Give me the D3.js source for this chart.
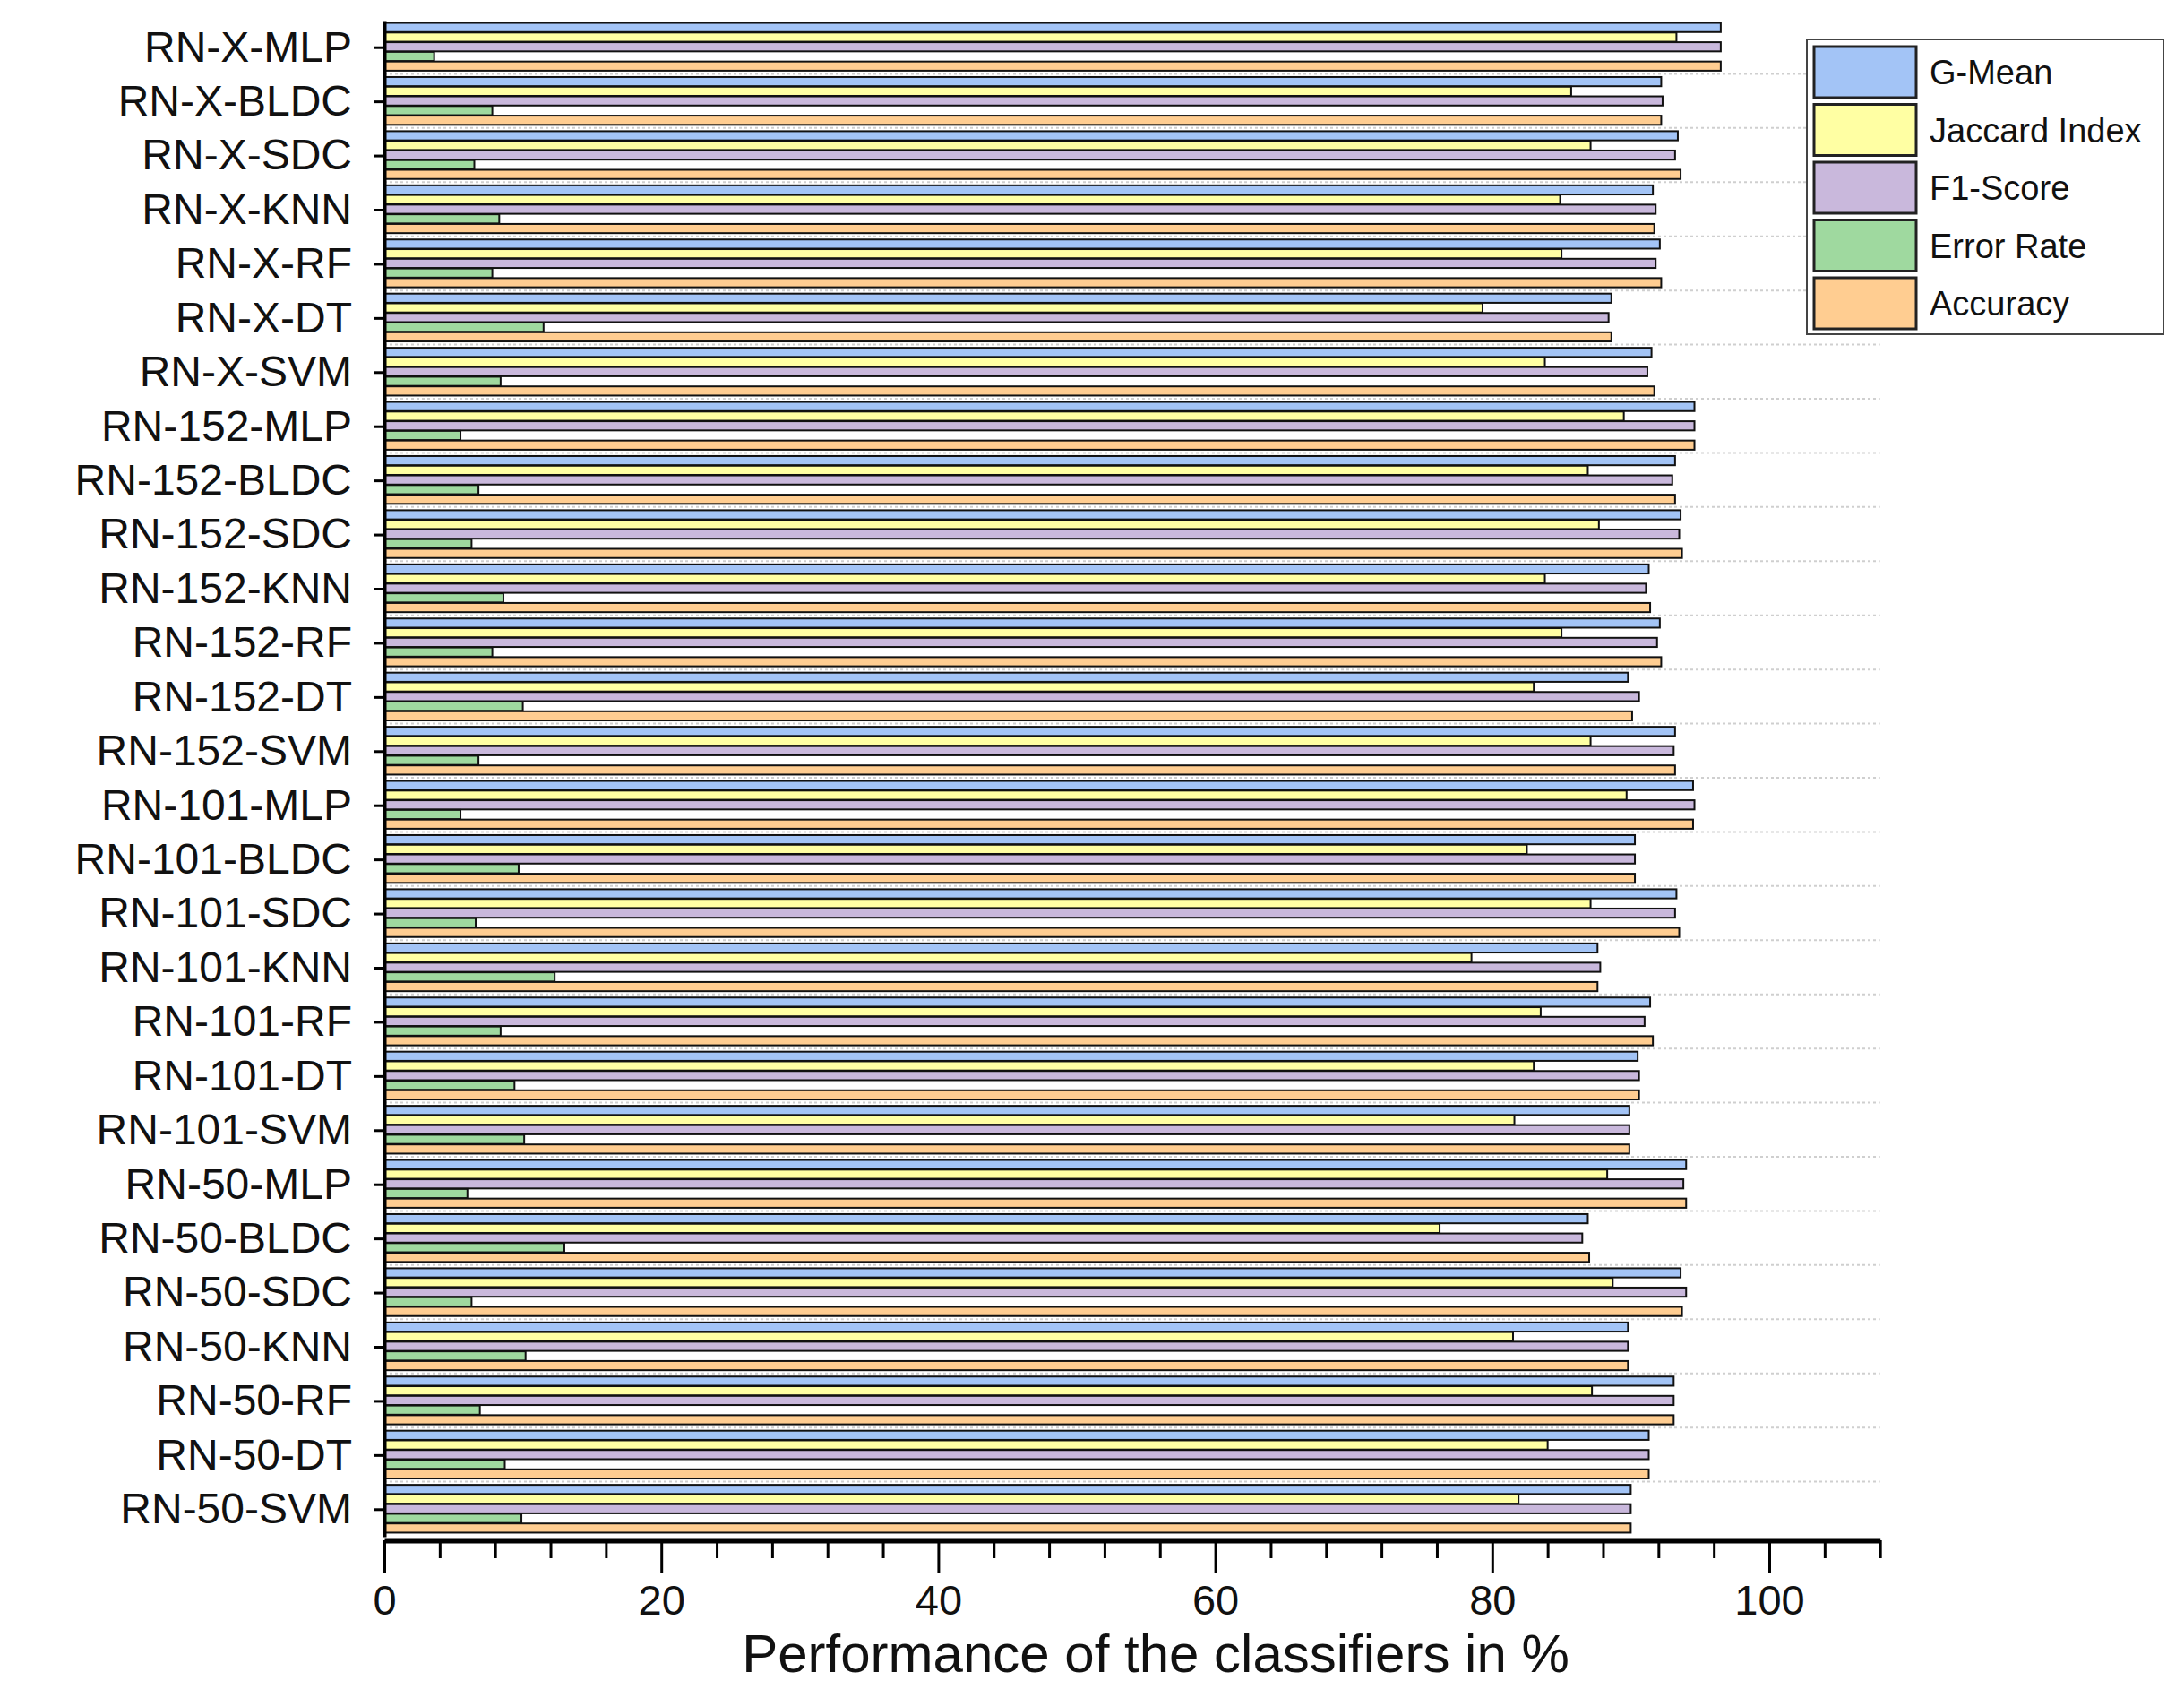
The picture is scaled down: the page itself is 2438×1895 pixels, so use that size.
<!DOCTYPE html>
<html>
<head>
<meta charset="utf-8">
<script src="https://cdn.jsdelivr.net/npm/d3@7"></script>
<style>
  body { margin: 0; background: #fff; }
  text { font-family: "Liberation Sans", Arial, sans-serif; }
</style>
</head>
<body>
<div id="chart"></div>
<script>
const categories = ["RN-X-MLP","RN-X-BLDC","RN-X-SDC","RN-X-KNN","RN-X-RF","RN-X-DT","RN-X-SVM",
  "RN-152-MLP","RN-152-BLDC","RN-152-SDC","RN-152-KNN","RN-152-RF","RN-152-DT","RN-152-SVM",
  "RN-101-MLP","RN-101-BLDC","RN-101-SDC","RN-101-KNN","RN-101-RF","RN-101-DT","RN-101-SVM",
  "RN-50-MLP","RN-50-BLDC","RN-50-SDC","RN-50-KNN","RN-50-RF","RN-50-DT","RN-50-SVM"];
const seriesNames = ["G-Mean","Jaccard Index","F1-Score","Error Rate","Accuracy"];
const gMean    = [96.5,92.2,93.4,91.6,92.1,88.6,91.5, 94.6,93.2,93.6,91.3,92.1,89.8,93.2, 94.5,90.3,93.3,87.6,91.4,90.5,89.9, 94.0,86.9,93.6,89.8,93.1,91.3,90.0];
const jaccard  = [93.3,85.7,87.1,84.9,85.0,79.3,83.8, 89.5,86.9,87.7,83.8,85.0,83.0,87.1, 89.7,82.5,87.1,78.5,83.5,83.0,81.6, 88.3,76.2,88.7,81.5,87.2,84.0,81.9];
const f1Score  = [96.5,92.3,93.2,91.8,91.8,88.4,91.2, 94.6,93.0,93.5,91.1,91.9,90.6,93.1, 94.6,90.3,93.2,87.8,91.0,90.6,89.9, 93.8,86.5,94.0,89.8,93.1,91.3,90.0];
const errRate  = [3.6,7.8,6.5,8.3,7.8,11.5,8.4, 5.5,6.8,6.3,8.6,7.8,10.0,6.8, 5.5,9.7,6.6,12.3,8.4,9.4,10.1, 6.0,13.0,6.3,10.2,6.9,8.7,9.9];
const accuracy = [96.5,92.2,93.6,91.7,92.2,88.6,91.7, 94.6,93.2,93.7,91.4,92.2,90.1,93.2, 94.5,90.3,93.5,87.6,91.6,90.6,89.9, 94.0,87.0,93.7,89.8,93.1,91.3,90.0];
const colors = ["#a3c4f6","#ffffa3","#c9b8dc","#9fd99f","#ffcd91"];
const xTicks = [0,20,40,60,80,100];

const series = [gMean, jaccard, f1Score, errRate, accuracy];
const W = 2438, H = 1895;
const plotLeft = 429, plotTop = 23, plotBottom = 1715;

const svg = d3.select("#chart").append("svg").attr("width", W).attr("height", H);

const x = d3.scaleLinear().domain([0, 108]).range([plotLeft, plotLeft + 108 * 15.46]);
const y = d3.scaleBand().domain(categories).range([plotTop, plotBottom]).paddingInner(0).paddingOuter(0);
const inner = d3.scaleBand().domain(d3.range(5)).range([2, y.bandwidth() - 4]).padding(0.05);

// dotted separators between groups
svg.append("g").selectAll("line").data(categories.slice(1)).join("line")
  .attr("x1", plotLeft).attr("x2", x(108))
  .attr("y1", d => y(d) - 1).attr("y2", d => y(d) - 1)
  .attr("stroke", "#cfcfcf").attr("stroke-width", 2).attr("stroke-dasharray", "3,3");

// bars
const groups = svg.append("g").selectAll("g").data(categories).join("g")
  .attr("transform", d => `translate(0,${y(d)})`);
groups.selectAll("rect").data((d, i) => series.map((s, k) => ({k, v: s[i]}))).join("rect")
  .attr("x", x(0)).attr("y", d => inner(d.k))
  .attr("width", d => x(d.v) - x(0)).attr("height", inner.bandwidth())
  .attr("fill", d => colors[d.k]).attr("stroke", "#111").attr("stroke-width", 2);

// y axis
const yAxis = svg.append("g").attr("transform", `translate(${plotLeft},0)`)
  .call(d3.axisLeft(y).tickSize(12).tickPadding(24).tickSizeOuter(0));
yAxis.select(".domain").attr("stroke-width", 4);
yAxis.selectAll(".tick line").attr("stroke-width", 3);
yAxis.selectAll("text").style("font-size", "48px").attr("fill", "#111");

// x axis
const xAxis = svg.append("g").attr("transform", `translate(0,${plotBottom + 4})`)
  .call(d3.axisBottom(x).tickValues(xTicks).tickSize(36).tickPadding(14).tickSizeOuter(0));
xAxis.select(".domain").attr("stroke-width", 6);
xAxis.selectAll(".tick line").attr("stroke-width", 3);
xAxis.selectAll("text").style("font-size", "47px").attr("fill", "#111");
svg.append("g").attr("transform", `translate(0,${plotBottom + 4})`)
  .call(d3.axisBottom(x).tickValues(d3.range(0, 109, 4).filter(v => v % 20 !== 0)).tickSize(20).tickFormat(""))
  .call(g => g.select(".domain").remove())
  .selectAll(".tick line").attr("stroke-width", 3);

svg.append("text").attr("x", 1290).attr("y", 1866).attr("text-anchor", "middle")
  .style("font-size", "60px").attr("fill", "#111").text("Performance of the classifiers in %");

// legend
const lg = svg.append("g").attr("transform", "translate(2017,44)");
lg.append("rect").attr("width", 398).attr("height", 329).attr("fill", "#fff")
  .attr("stroke", "#444").attr("stroke-width", 2);
seriesNames.forEach((n, k) => {
  lg.append("rect").attr("x", 8).attr("y", 8 + k * 64.5).attr("width", 114).attr("height", 57)
    .attr("fill", colors[k]).attr("stroke", "#222").attr("stroke-width", 3);
  lg.append("text").attr("x", 137).attr("y", 50 + k * 64.5)
    .style("font-size", "38px").attr("fill", "#111").text(n);
});
</script>
</body>
</html>
